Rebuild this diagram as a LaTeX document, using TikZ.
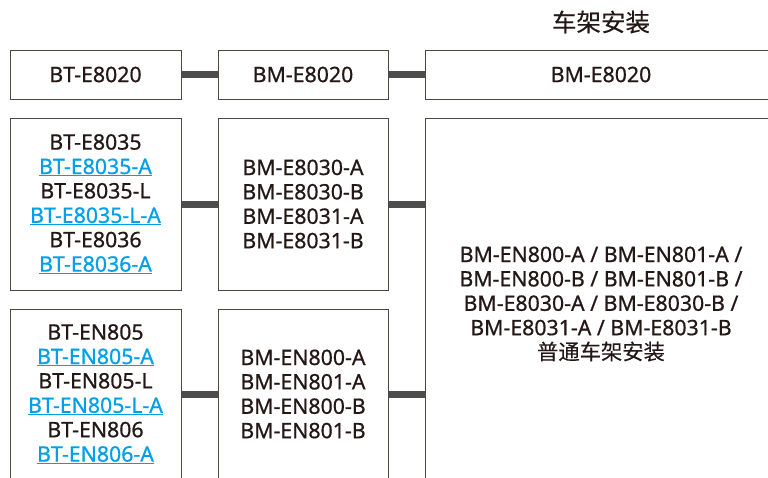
\documentclass[tikz,border=0pt]{standalone}
\usepackage{fontspec}
\setmainfont{Noto Sans}[FakeBold=0.7]
\newfontfamily\cjk{Noto Sans CJK SC}[FakeBold=0.3]
\usepackage{tikz}
\usetikzlibrary{positioning,calc}
\usepackage{xcolor}
\definecolor{ink}{HTML}{231815}
\definecolor{linkblue}{HTML}{00A0E9}
\definecolor{barcol}{HTML}{4D4D4D}
\newcommand{\lnk}[1]{{\color{linkblue}\underline{#1}}}

\begin{document}
\begin{tikzpicture}[x=1pt,y=-1pt,
    part/.style={draw=ink!80,line width=1pt,align=center,text=ink,
      font=\fontsize{21.3}{24.4}\selectfont,inner sep=0pt},
    bar/.style={barcol,line width=7pt}]
  \useasboundingbox (0,0) rectangle (768,477);
  \clip (0,0) rectangle (768,477);

  % heading
  \node[text=ink,font=\cjk\fontsize{24.5}{28}\selectfont] (head) at (601,22) {车架安装};

  % top row
  \node[part,minimum width=171pt,minimum height=49pt] (t1) at (95.5,74.5) {BT-E8020};
  \node[part,minimum width=170pt,minimum height=49pt] (m1) at (303,74.5) {BM-E8020};
  \node[part,minimum width=352pt,minimum height=49pt] (r1) at (601,74.5) {BM-E8020};

  % second row
  \node[part,minimum width=171pt,minimum height=172pt] (t2) at (95.5,204)
    {BT-E8035\\\lnk{BT-E8035-A}\\BT-E8035-L\\\lnk{BT-E8035-L-A}\\BT-E8036\\\lnk{BT-E8036-A}};
  \node[part,minimum width=170pt,minimum height=172pt] (m2) at (303,204)
    {BM-E8030-A\\BM-E8030-B\\BM-E8031-A\\BM-E8031-B};

  % third row
  \node[part,minimum width=171pt,minimum height=170pt] (t3) at (95.5,394)
    {BT-EN805\\\lnk{BT-EN805-A}\\BT-EN805-L\\\lnk{BT-EN805-L-A}\\BT-EN806\\\lnk{BT-EN806-A}};
  \node[part,minimum width=170pt,minimum height=170pt] (m3) at (303,394)
    {BM-EN800-A\\BM-EN801-A\\BM-EN800-B\\BM-EN801-B};

  % frame (common)
  \node[part,minimum width=352pt,minimum height=372pt] (frame) at (601,304)
    {BM-EN800-A / BM-EN801-A /\\BM-EN800-B / BM-EN801-B /\\BM-E8030-A / BM-E8030-B /\\BM-E8031-A / BM-E8031-B\\{\cjk 普通车架安装}};

  % bars
  \draw[bar] (t1.east) -- (m1.west);
  \draw[bar] (m1.east) -- (r1.west);
  \draw[bar] (t2.east) -- (m2.west);
  \draw[bar] (m2.east) -- (m2.east -| frame.west);
  \draw[bar] (t3.east) -- (m3.west);
  \draw[bar] (m3.east) -- (m3.east -| frame.west);
\end{tikzpicture}
\end{document}
